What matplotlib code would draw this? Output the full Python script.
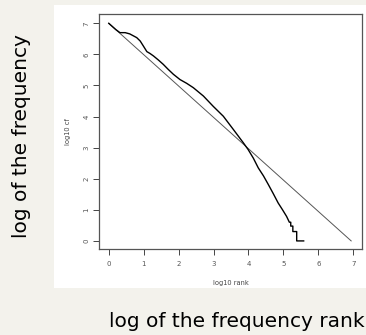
import matplotlib.pyplot as plt
from matplotlib.patches import Rectangle

# rank-frequency curve (log10 rank, log10 cf)
rank_x = [0.00, 0.10, 0.20, 0.32, 0.47, 0.60, 0.70, 0.80, 0.90, 0.99, 1.09, 1.18,
          1.28, 1.42, 1.56, 1.70, 1.85, 2.04, 2.23, 2.42, 2.71, 2.99, 3.28, 3.57,
          3.85, 3.99, 4.14, 4.28, 4.43, 4.57, 4.71, 4.85, 4.97, 5.09, 5.17, 5.21,
          5.21, 5.27, 5.27, 5.38, 5.38, 5.58]
freq_y = [7.00, 6.90, 6.80, 6.70, 6.70, 6.66, 6.60, 6.54, 6.43, 6.27, 6.09, 6.03,
          5.95, 5.82, 5.68, 5.52, 5.36, 5.19, 5.07, 4.93, 4.66, 4.33, 4.01, 3.58,
          3.16, 2.94, 2.66, 2.35, 2.09, 1.81, 1.52, 1.22, 1.01, 0.79, 0.602, 0.602,
          0.477, 0.477, 0.301, 0.301, 0.00, 0.00]

# reference straight line (slope about -1)
fit_x = [0.0, 6.94]
fit_y = [7.0, 0.0]

ticks = [0, 1, 2, 3, 4, 5, 6, 7]

fig = plt.figure(figsize=(3.66, 3.35), dpi=100, facecolor="#f3f2ec")

# white panel behind the R plot
panel = Rectangle((54 / 366, 47 / 335), 312 / 366, 283 / 335,
                  transform=fig.transFigure, facecolor="white",
                  edgecolor="none", zorder=-10)
fig.add_artist(panel)

ax = fig.add_axes([99 / 366, 86 / 335, 263 / 366, 235 / 335])
ax.set_facecolor("white")
ax.plot(fit_x, fit_y, color="#555555", lw=0.7)
ax.plot(rank_x, freq_y, color="black", lw=1.0)

ax.set_xlim(-0.28, 7.25)
ax.set_ylim(-0.26, 7.30)
ax.set_xticks(ticks)
ax.set_yticks(ticks)
ax.tick_params(axis="x", length=4, width=0.7, color="#444444", pad=5,
               labelsize=5, labelcolor="#555555")
ax.tick_params(axis="y", length=4, width=0.7, color="#444444", pad=3,
               labelsize=5, labelcolor="#555555", labelrotation=90)
for lab in ax.get_yticklabels():
    lab.set_verticalalignment("center")
for s in ax.spines.values():
    s.set_color("#555555")
    s.set_linewidth(0.9)

ax.text(0.5, -0.145, "log10 rank", transform=ax.transAxes, ha="center",
        va="center", fontsize=4.8, color="#444444")
ax.text(-0.118, 0.5, "log10 cf", transform=ax.transAxes, ha="center",
        va="center", rotation=90, fontsize=4.8, color="#444444")

fig.text(237 / 366, 8 / 335, "log of the frequency rank", ha="center",
         va="baseline", fontsize=14.5, color="black")
fig.text(22 / 366, 1 - 136 / 335, "log of the frequency", ha="center",
         va="center", rotation=90, fontsize=14.5, color="black")

fig.savefig("out.png", dpi=100, facecolor=fig.get_facecolor())
